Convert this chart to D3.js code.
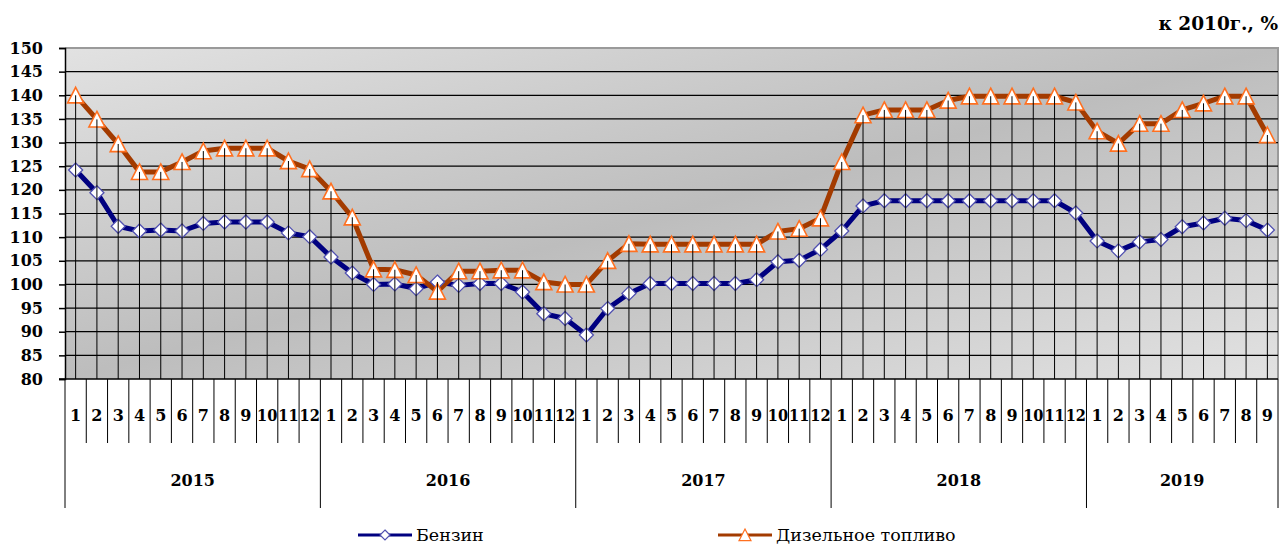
<!DOCTYPE html>
<html>
<head>
<meta charset="utf-8">
<script src="https://cdn.jsdelivr.net/npm/d3@7"></script>
<style>
  body { margin: 0; background: #fff; }
  svg { display: block; }
  .tick-label { font-family: "DejaVu Serif", serif; font-weight: bold; font-size: 16px; fill: #000; }
  .legend-text { font-family: "DejaVu Serif", serif; font-size: 17.5px; fill: #000; }
</style>
</head>
<body>
<svg id="canvas" width="1281" height="544"></svg>
<script>
// Data
const years = ["2015", "2016", "2017", "2018", "2019"];
const monthsPerYear = [12, 12, 12, 12, 9];
const yTicks = [80, 85, 90, 95, 100, 105, 110, 115, 120, 125, 130, 135, 140, 145, 150];

const benzin = [
  124.2, 119.4, 112.3, 111.3, 111.5, 111.3, 112.9, 113.2, 113.2, 113.2, 110.9, 110.1,
  105.8, 102.4, 100.0, 100.1, 99.1, 100.5, 99.8, 100.2, 100.2, 98.4, 93.8, 92.8,
  89.3, 94.9, 98.1, 100.2, 100.2, 100.2, 100.2, 100.2, 101.0, 104.8, 105.1, 107.4,
  111.3, 116.6, 117.7, 117.7, 117.7, 117.7, 117.7, 117.7, 117.7, 117.7, 117.7, 115.1,
  109.2, 107.1, 109.0, 109.5, 112.2, 113.0, 114.0, 113.5, 111.5
];
const diesel = [
  140.0, 134.9, 129.7, 123.8, 123.8, 125.9, 128.2, 128.8, 128.8, 128.8, 126.1, 124.4,
  119.7, 114.2, 103.2, 103.1, 102.0, 98.5, 102.8, 102.8, 103.0, 103.0, 100.5, 100.0,
  100.0, 105.0, 108.6, 108.5, 108.5, 108.5, 108.5, 108.5, 108.5, 111.2, 111.8, 114.0,
  125.9, 135.8, 136.9, 136.9, 136.9, 138.9, 139.8, 139.8, 139.8, 139.8, 139.8, 138.5,
  132.4, 129.8, 134.0, 134.0, 136.9, 138.3, 139.8, 139.8, 131.6
];
const seriesNames = ["Бензин", "Дизельное топливо"];
const unitLabel = "к 2010г., %";

// month labels and year of each category
const months = [];
const yearOf = [];
years.forEach((y, i) => {
  d3.range(1, monthsPerYear[i] + 1).forEach((m) => {
    months.push(String(m));
    yearOf.push(y);
  });
});

const svg = d3.select("#canvas");
const [pl, pr, pt, pb] = [65, 1278, 48, 379];

const x = d3.scaleBand().domain(d3.range(months.length)).range([pl, pr]).padding(0);
const y = d3.scaleLinear().domain([80, 150]).range([pb, pt]);
const cx = (i) => x(i) + x.bandwidth() / 2;

// Plot area background
const defs = svg.append("defs");
const grad = defs.append("linearGradient")
  .attr("id", "bg").attr("x1", 0).attr("y1", 0).attr("x2", 1).attr("y2", 1);
grad.append("stop").attr("offset", 0).attr("stop-color", "#e2e2e2");
grad.append("stop").attr("offset", 0.5).attr("stop-color", "#bdbdbd");
grad.append("stop").attr("offset", 1).attr("stop-color", "#e2e2e2");

svg.append("rect")
  .attr("x", pl).attr("y", pt)
  .attr("width", pr - pl).attr("height", pb - pt)
  .attr("fill", "url(#bg)");

// frame top + right
svg.append("path")
  .attr("d", `M${pl},${pt}H${pr}V${pb}`)
  .attr("fill", "none").attr("stroke", "#9a9a9a").attr("stroke-width", 2);

// Horizontal gridlines
svg.append("g")
  .selectAll("line")
  .data(yTicks.filter((t) => t > 80 && t < 150))
  .enter()
  .append("line")
  .attr("x1", pl).attr("x2", pr)
  .attr("y1", (d) => y(d)).attr("y2", (d) => y(d))
  .attr("stroke", "#000").attr("stroke-width", 1.2);

// Y axis
const yAxis = svg.append("g").attr("transform", `translate(${pl},0)`)
  .call(d3.axisLeft(y).tickValues(yTicks).tickSize(6).tickPadding(16));
yAxis.select(".domain").attr("stroke", "#000").attr("stroke-width", 1.5);
yAxis.selectAll(".tick line").attr("stroke", "#000").attr("stroke-width", 1.5);
yAxis.selectAll(".tick text").attr("class", "tick-label");
yAxis.attr("font-family", null).attr("font-size", null);

// Bottom axis line
svg.append("line")
  .attr("x1", pl - 6).attr("x2", pr)
  .attr("y1", pb).attr("y2", pb)
  .attr("stroke", "#000").attr("stroke-width", 1.5);

// Category separators below the axis
const sepIdx = d3.range(months.length + 1);
svg.append("g")
  .selectAll("line")
  .data(sepIdx)
  .enter()
  .append("line")
  .attr("x1", (i) => (i < months.length ? x(i) : pr))
  .attr("x2", (i) => (i < months.length ? x(i) : pr))
  .attr("y1", pb)
  .attr("y2", (i) => (i === 0 || i === months.length || yearOf[i] !== yearOf[i - 1] ? 508 : 443))
  .attr("stroke", "#000").attr("stroke-width", 1);

// Month labels
svg.append("g")
  .selectAll("text")
  .data(months)
  .enter()
  .append("text")
  .attr("class", "tick-label")
  .attr("x", (d, i) => cx(i))
  .attr("y", 415)
  .attr("text-anchor", "middle")
  .attr("dominant-baseline", "central")
  .attr("textLength", (d) => (d.length > 1 ? x.bandwidth() - 1 : null))
  .attr("lengthAdjust", "spacingAndGlyphs")
  .text((d) => d);

// Year labels
let start = 0;
const yearSpans = years.map((yr, i) => {
  const s = { year: yr, from: start, to: start + monthsPerYear[i] };
  start += monthsPerYear[i];
  return s;
});
svg.append("g")
  .selectAll("text")
  .data(yearSpans)
  .enter()
  .append("text")
  .attr("class", "tick-label")
  .attr("x", (d) => (x(d.from) + (d.to < months.length ? x(d.to) : pr)) / 2)
  .attr("y", 480)
  .attr("text-anchor", "middle")
  .attr("dominant-baseline", "central")
  .text((d) => d.year);

// Lines
const line = d3.line().x((d, i) => cx(i)).y((d) => y(d));

svg.append("path").datum(benzin)
  .attr("d", line).attr("fill", "none")
  .attr("stroke", "#000080").attr("stroke-width", 5).attr("stroke-linejoin", "round");
svg.append("path").datum(diesel)
  .attr("d", line).attr("fill", "none")
  .attr("stroke", "#a33b00").attr("stroke-width", 5).attr("stroke-linejoin", "round");

// Markers
const diamond = (s) => `M0,${-s}L${s},0L0,${s}L${-s},0Z`;
const triangle = (s) => `M0,${-s}L${s},${s * 0.95}L${-s},${s * 0.95}Z`;

svg.append("g")
  .selectAll("path")
  .data(benzin)
  .enter()
  .append("path")
  .attr("transform", (d, i) => `translate(${cx(i)},${y(d)})`)
  .attr("d", diamond(7))
  .attr("fill", "#fff").attr("stroke", "#5050b0").attr("stroke-width", 1.3);

svg.append("g")
  .selectAll("path")
  .data(diesel)
  .enter()
  .append("path")
  .attr("transform", (d, i) => `translate(${cx(i)},${y(d)})`)
  .attr("d", triangle(8))
  .attr("fill", "#fff").attr("stroke", "#ff7020").attr("stroke-width", 1.6);

// Drop lines from the higher series to the axis
svg.append("g")
  .selectAll("line")
  .data(diesel.map((d, i) => Math.max(d, benzin[i])))
  .enter()
  .append("line")
  .attr("x1", (d, i) => cx(i)).attr("x2", (d, i) => cx(i))
  .attr("y1", (d) => y(d)).attr("y2", pb)
  .attr("stroke", "#000").attr("stroke-width", 1);

// Unit label
svg.append("text")
  .attr("class", "tick-label")
  .style("font-size", "18.5px")
  .attr("x", 1278).attr("y", 23)
  .attr("text-anchor", "end")
  .attr("dominant-baseline", "central")
  .text(unitLabel);

// Legend
const legendItems = [
  { name: seriesNames[0], x: 358, color: "#000080", marker: diamond(5), mstroke: "#5050b0" },
  { name: seriesNames[1], x: 718, color: "#a33b00", marker: triangle(6), mstroke: "#ff7020" },
];
const lg = svg.append("g")
  .selectAll("g")
  .data(legendItems)
  .enter()
  .append("g")
  .attr("transform", (d) => `translate(${d.x},535)`);
lg.append("line")
  .attr("x1", 0).attr("x2", 54).attr("y1", 0).attr("y2", 0)
  .attr("stroke", (d) => d.color).attr("stroke-width", 3);
lg.append("path")
  .attr("transform", "translate(27,0)")
  .attr("d", (d) => d.marker)
  .attr("fill", "#fff").attr("stroke", (d) => d.mstroke).attr("stroke-width", 1.2);
lg.append("text")
  .attr("class", "legend-text")
  .attr("x", 58).attr("y", 0)
  .attr("dominant-baseline", "central")
  .text((d) => d.name);
</script>
</body>
</html>
